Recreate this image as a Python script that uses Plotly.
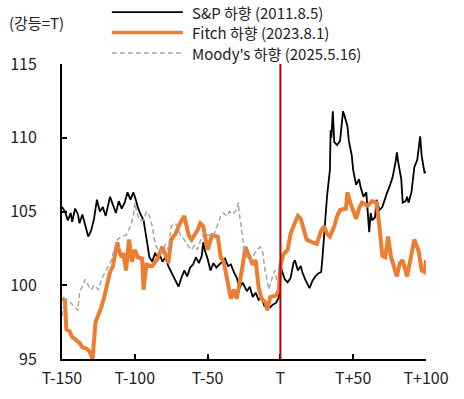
import plotly.graph_objects as go

# ---------------- data ----------------
sp_days = [-150, -148, -146, -144, -143, -141, -139, -138, -136, -134, -132, -130, -128, -126, -124, -122,
           -120, -117, -115, -113, -111, -109, -107, -105, -103, -101, -99, -98, -96, -94, -92, -91, -90,
           -88, -86, -84, -83, -81, -79, -77, -75, -72, -70, -68, -66, -64, -62, -60, -58, -56, -54, -53,
           -52, -50, -48, -46, -44, -42, -40, -38, -36, -34, -32, -30, -28, -26, -23, -21, -19, -17, -15,
           -13, -11, -9, -7, -5, -3, -1, 0, 1, 3, 5, 7, 9, 10, 12, 14, 15, 17, 19, 20, 22, 24, 26, 28, 29,
           31, 32, 34, 34.5, 35, 36, 37, 39, 41, 43, 44, 46, 47, 49, 50, 52, 54, 55, 57, 59, 61, 62, 63, 65,
           66, 68, 70, 72, 73, 75, 77, 79, 80, 81, 83, 84, 86, 87, 88, 90, 91, 92, 94, 96, 97, 99, 100]
sp_vals = [105.3, 105.0, 104.4, 104.9, 104.3, 105.2, 104.8, 104.2, 104.8, 104.0, 103.3, 103.7, 104.5, 105.8,
           105.0, 105.3, 104.7, 106.0, 105.4, 104.9, 105.7, 105.2, 105.6, 106.3, 105.8, 106.3, 105.7, 105.3,
           104.8, 104.4, 103.2, 102.4, 101.9, 101.6, 102.2, 101.7, 102.1, 101.6, 101.9, 101.3, 100.9, 100.4,
           99.9, 100.5, 101.0, 100.6, 101.2, 101.4, 101.9, 101.5, 102.0, 102.9, 102.4, 101.8, 101.0, 101.5,
           101.2, 101.4, 101.6, 101.8, 101.3, 101.4, 100.9, 100.5, 99.8, 100.2, 99.6, 99.9, 99.2, 99.5, 99.0,
           99.2, 98.6, 98.8, 98.5, 98.7, 98.8, 99.2, 101.5, 101.0, 100.4, 100.2, 100.5, 101.5, 101.7, 101.0,
           101.3, 100.9, 100.4, 100.0, 99.8, 100.3, 100.6, 100.8, 100.9, 102.0, 104.6, 106.0, 107.8, 110.5,
           110.0, 111.8, 109.7, 109.5, 109.8, 111.8, 111.5, 110.8, 109.8, 108.8, 107.8, 106.8, 107.2, 106.7,
           106.0, 106.3, 103.6, 104.9, 104.4, 104.6, 105.8, 105.1, 105.3, 106.0, 106.2, 106.7, 107.3, 108.3,
           109.0, 108.3, 107.2, 105.6, 105.7, 106.0, 105.6, 106.3, 107.2, 108.0, 108.5, 110.1, 108.8, 107.6,
           107.7]

fitch_days = [-150, -148, -147, -145, -143, -140, -138, -136, -133, -131, -129, -127, -125, -123, -121, -119,
              -117, -115, -114, -112, -111, -109, -108, -106, -104, -102, -100, -98, -95, -94, -92, -88, -85,
              -81, -79, -77, -75, -72, -69, -66, -63, -61, -57, -55, -53, -50, -47, -43, -41, -39, -37, -34,
              -32, -30, -26, -24, -22, -19, -17, -15, -13, -10, -9, -7, -3, -1, 0, 2, 5, 7, 9, 12, 14, 16, 18,
              22, 25, 28, 30, 32, 34, 37, 39, 41, 45, 46, 48, 52, 54, 56, 60, 63, 66, 68, 70, 72, 74, 76, 80,
              82, 84, 87, 90, 92, 95, 97, 99, 100]
fitch_vals = [99.1, 99.0, 97.0, 96.9, 96.5, 96.3, 96.1, 95.8, 95.7, 95.5, 95.0, 97.5, 98.0, 98.5, 99.2, 100.1,
              100.9, 101.3, 101.9, 102.9, 102.4, 101.9, 102.2, 101.0, 103.1, 101.6, 102.4, 101.9, 101.8, 99.7,
              101.4, 101.3, 101.7, 102.6, 102.1, 101.5, 103.1, 103.5, 104.2, 104.7, 103.4, 103.1, 103.7, 104.2,
              104.0, 102.4, 103.4, 103.3, 101.9, 101.6, 100.6, 99.1, 99.7, 99.1, 101.3, 102.6, 102.1, 101.4,
              101.7, 99.9, 99.1, 98.8, 98.3, 99.2, 99.3, 99.7, 101.3, 102.1, 102.4, 103.5, 104.0, 104.7, 104.5,
              103.7, 103.1, 102.9, 102.8, 103.7, 104.0, 103.5, 103.3, 104.0, 104.7, 105.1, 105.2, 106.3, 105.6,
              104.5, 105.2, 105.6, 105.4, 105.7, 105.6, 104.0, 102.0, 101.9, 103.3, 101.9, 100.6, 101.5, 101.7,
              100.6, 102.2, 103.1, 102.3, 101.0, 100.9, 101.7]

moody_days = [-150, -148, -146, -144, -141, -139, -138, -136, -134, -132, -130, -128, -125, -123, -119, -116,
              -114, -112, -109, -106, -103, -101, -100, -99, -97, -94, -92, -90, -88, -86, -84, -81, -79, -77,
              -75, -72, -70, -68, -66, -63, -61, -59, -57, -54, -52, -50, -46, -43, -41, -39, -37, -35, -33,
              -30, -29, -28, -26, -25, -23, -21, -19, -17, -14, -12, -11, -9, -8, -6, -4, -3, -2]
moody_vals = [97.9, 99.1, 99.0, 98.8, 98.5, 98.3, 99.5, 100.0, 100.4, 100.0, 99.7, 100.0, 99.7, 100.4, 101.1,
              101.7, 102.5, 103.1, 103.3, 103.4, 104.0, 104.7, 105.6, 105.1, 104.4, 104.4, 105.0, 104.7, 104.0,
              102.8, 102.4, 102.2, 102.8, 102.4, 104.0, 104.2, 103.7, 103.3, 103.1, 102.6, 102.4, 102.7, 102.4,
              103.3, 103.6, 103.4, 103.3, 104.2, 104.7, 104.9, 104.7, 105.0, 104.8, 105.1, 105.6, 104.7, 103.5,
              102.6, 101.9, 101.6, 101.9, 102.3, 102.6, 102.2, 101.3, 100.1, 99.7, 100.4, 101.0, 100.6, 100.1]

series_names = ["S&P 하향 (2011.8.5)", "Fitch 하향 (2023.8.1)", "Moody's 하향 (2025.5.16)"]
x_tick_vals = [-150, -100, -50, 0, 50, 100]
x_tick_text = ["T-150", "T-100", "T-50", "T", "T+50", "T+100"]
y_tick_vals = [95, 100, 105, 110, 115]
unit_label = "(강등=T)"
event_day = 0

# ---------------- styling ----------------
FONT = "Noto Sans CJK KR"
TXT = "#222222"
colors = ["#000000", "#ED7D31", "#A6A6A6"]
widths = [1.8, 4, 1.5]
dashes = ["solid", "solid", "5px,3px"]

fig = go.Figure()
for d, v, name, c, w, ds in zip([sp_days, fitch_days, moody_days], [sp_vals, fitch_vals, moody_vals],
                                series_names, colors, widths, dashes):
    fig.add_trace(go.Scatter(x=d, y=v, mode="lines", name=name, showlegend=False,
                             line=dict(color=c, width=w, dash=ds)))

# red event line
fig.add_shape(type="line", xref="x", yref="paper", x0=event_day, x1=event_day, y0=0, y1=1,
              line=dict(color="#C00000", width=2))

# custom legend (long line samples)
leg_y = [1.176, 1.107, 1.037]
for name, c, w, ds, ly in zip(series_names, colors, widths, dashes, leg_y):
    fig.add_shape(type="line", xref="paper", yref="paper", x0=0.137, x1=0.332, y0=ly, y1=ly,
                  line=dict(color=c, width=w if w < 3 else 3.5, dash=ds))
    fig.add_annotation(xref="paper", yref="paper", x=0.352, y=ly, text=name, showarrow=False,
                       xanchor="left", yanchor="middle", font=dict(family=FONT, size=15, color=TXT))

fig.add_annotation(xref="paper", yref="paper", x=-0.152, y=1.139, text=unit_label, showarrow=False,
                   xanchor="left", yanchor="middle", font=dict(family=FONT, size=15, color=TXT))

fig.update_layout(
    width=464, height=399,
    margin=dict(l=62, r=38, t=64, b=40, autoexpand=False),
    plot_bgcolor="white", paper_bgcolor="white",
    font=dict(family=FONT, size=16, color=TXT),
    xaxis=dict(range=[-150, 100], tickvals=x_tick_vals, ticktext=x_tick_text, automargin=False,
               showgrid=False, zeroline=False, showline=True, linecolor="black", linewidth=2,
               ticks="inside", ticklen=5, tickwidth=2, tickcolor="black",
               ticklabelstandoff=4),
    yaxis=dict(range=[95, 115], tickvals=y_tick_vals, automargin=False,
               showgrid=False, zeroline=False, showline=True, linecolor="black", linewidth=2,
               ticks="inside", ticklen=5, tickwidth=2, tickcolor="black",
               ticklabelstandoff=20),
)

fig.write_html("out.html", config={"displayModeBar": False},
               post_script="document.body.style.margin='0';document.body.style.padding='0';")
